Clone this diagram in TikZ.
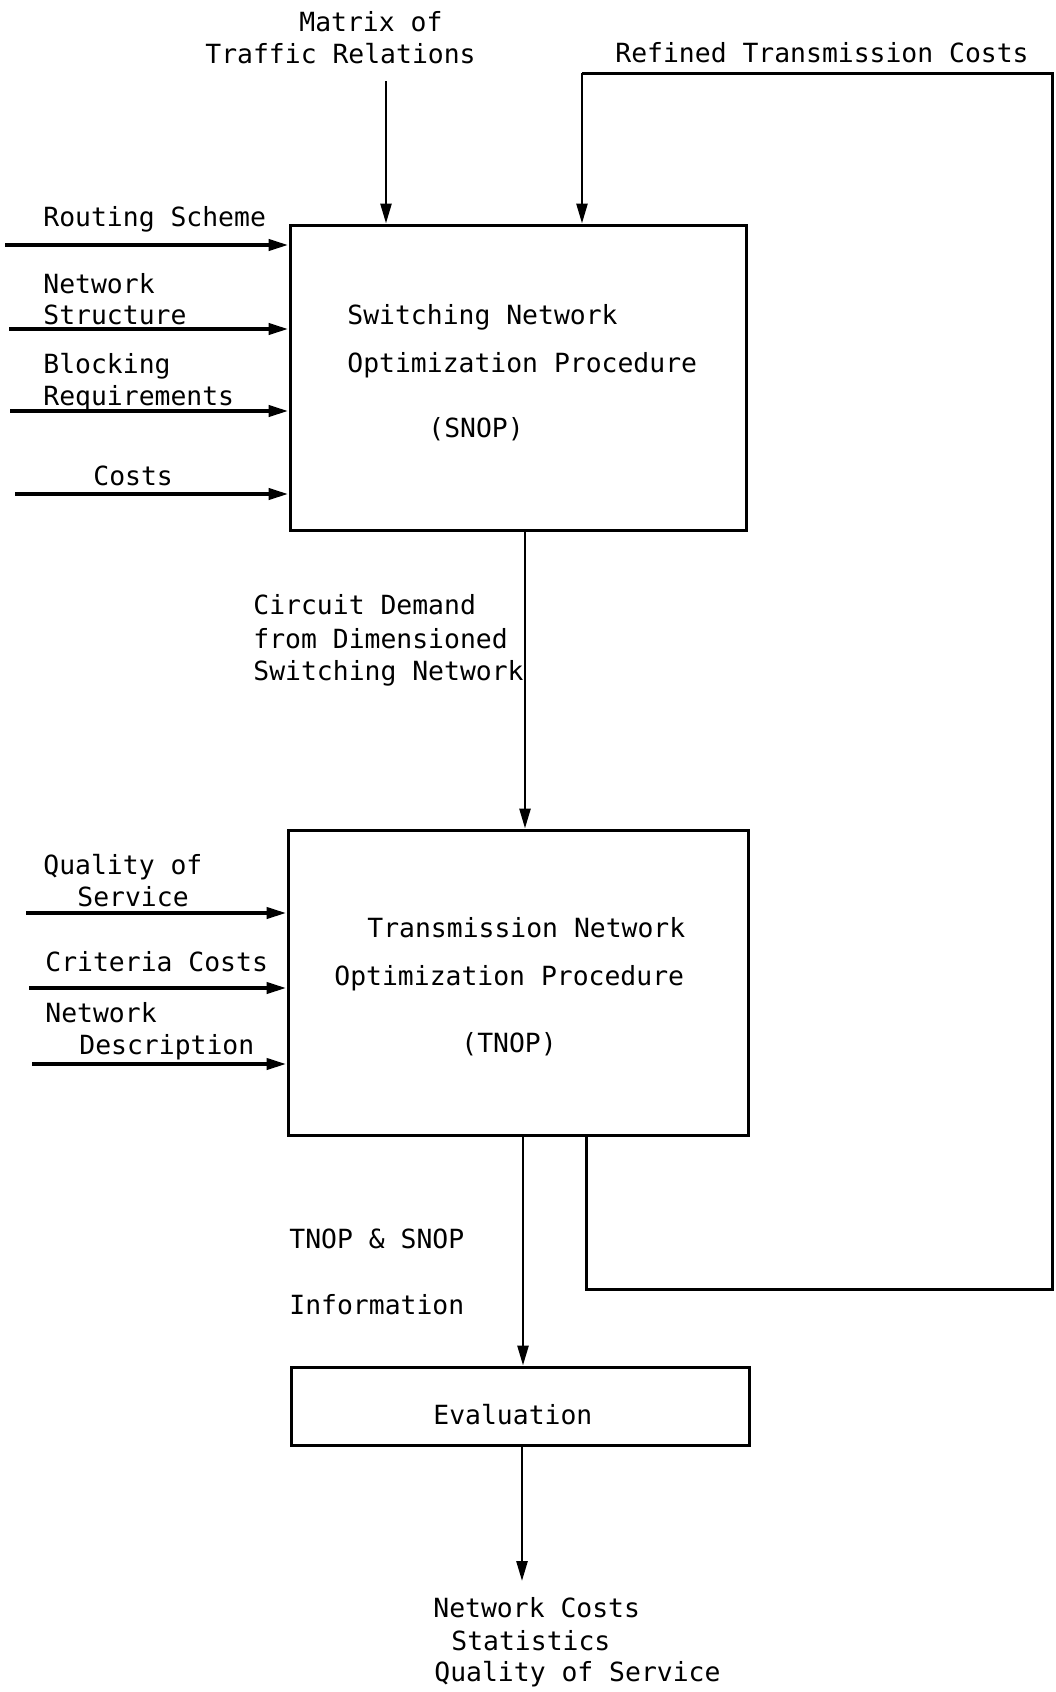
\documentclass[tikz,border=0pt]{standalone}
\usepackage{fontspec}
\setmonofont{DejaVu Sans Mono}
\usetikzlibrary{arrows.meta}
\begin{document}
\begin{tikzpicture}[x=0.5pt,y=-0.5pt,
  lbl/.style={anchor=base west, inner sep=0pt, font=\ttfamily\fontsize{13.2}{16}\selectfont},
  blk/.style={draw, line width=1.5pt, inner sep=0pt},
  arr/.style={line width=1.3pt, -{Triangle[length=10pt,width=5.5pt]}},
  inarr/.style={line width=2pt, -{Triangle[length=10pt,width=5.5pt]}},
  fbline/.style={line width=1.5pt},
]
\useasboundingbox (0,0) rectangle (1055,1692);
\fill[white] (0,0) rectangle (1055,1692);

% --- main blocks ---
\node[blk, minimum width=228pt, minimum height=152.5pt] (snop) at (518,377.5) {};
\node[blk, minimum width=230pt, minimum height=152.5pt] (tnop) at (518,982.5) {};
\node[blk, minimum width=229pt, minimum height=39pt] (eval) at (520,1406) {};

% --- block captions ---
\node[lbl] (snop1) at (347,324) {Switching Network};
\node[lbl] (snop2) at (347,372) {Optimization Procedure};
\node[lbl] (snop3) at (428,437) {(SNOP)};
\node[lbl] (tnop1) at (367,937) {Transmission Network};
\node[lbl] (tnop2) at (334,985) {Optimization Procedure};
\node[lbl] (tnop3) at (461,1052) {(TNOP)};
\node[lbl] (eval1) at (433,1424) {Evaluation};

% --- top inputs ---
\node[lbl] (mtx1) at (299,31) {Matrix of};
\node[lbl] (mtx2) at (205,63) {Traffic Relations};
\node[lbl] (rtc) at (615,62) {Refined Transmission Costs};
\coordinate (mtxtail) at (386,81);
\draw[arr] (mtxtail) -- (mtxtail |- snop.north);

% --- SNOP inputs ---
\node[lbl] (rs) at (43,226) {Routing Scheme};
\node[lbl] (ns1) at (43,293) {Network};
\node[lbl] (ns2) at (43,324) {Structure};
\node[lbl] (br1) at (43,373) {Blocking};
\node[lbl] (br2) at (43,405) {Requirements};
\node[lbl] (cst) at (93,485) {Costs};
\coordinate (t1) at (5,245);
\coordinate (t2) at (9,329);
\coordinate (t3) at (10,411);
\coordinate (t4) at (15,494);
\foreach \t in {t1,t2,t3,t4}
  \draw[inarr] (\t) -- (\t -| snop.west);

% --- SNOP to TNOP ---
\coordinate (c1) at (525,0);
\draw[arr] (snop.south -| c1) -- (tnop.north -| c1);
\node[lbl] (cd1) at (253,614) {Circuit Demand};
\node[lbl] (cd2) at (253,648) {from Dimensioned};
\node[lbl] (cd3) at (253,680) {Switching Network};

% --- TNOP inputs ---
\node[lbl] (qs1) at (43,874) {Quality of};
\node[lbl] (qs2) at (77,906) {Service};
\node[lbl] (cc) at (45,971) {Criteria Costs};
\node[lbl] (nd1) at (45,1022) {Network};
\node[lbl] (nd2) at (79,1054) {Description};
\coordinate (u1) at (26,913);
\coordinate (u2) at (29,988);
\coordinate (u3) at (32,1064);
\foreach \t in {u1,u2,u3}
  \draw[inarr] (\t) -- (\t -| tnop.west);

% --- feedback loop: refined transmission costs ---
\coordinate (fb1) at (586,1289);
\coordinate (fb2) at (1052,1289);
\coordinate (fb3) at (1052,73);
\coordinate (fb4) at (582,73);
\draw[fbline] (fb1 |- tnop.south) -- (fb1) -- (fb2) -- (fb3) -- (fb4);
\draw[arr] (fb4) -- (fb4 |- snop.north);

% --- TNOP to evaluation ---
\coordinate (c2) at (523,0);
\draw[arr] (tnop.south -| c2) -- (eval.north -| c2);
\node[lbl] (ts1) at (289,1248) {TNOP \& SNOP};
\node[lbl] (ts2) at (289,1314) {Information};

% --- results ---
\coordinate (outtip) at (522,1581);
\draw[arr] (eval.south -| outtip) -- (outtip);
\node[lbl] (res1) at (433,1617) {Network Costs};
\node[lbl] (res2) at (451,1650) {Statistics};
\node[lbl] (res3) at (434,1681) {Quality of Service};
\end{tikzpicture}
\end{document}
